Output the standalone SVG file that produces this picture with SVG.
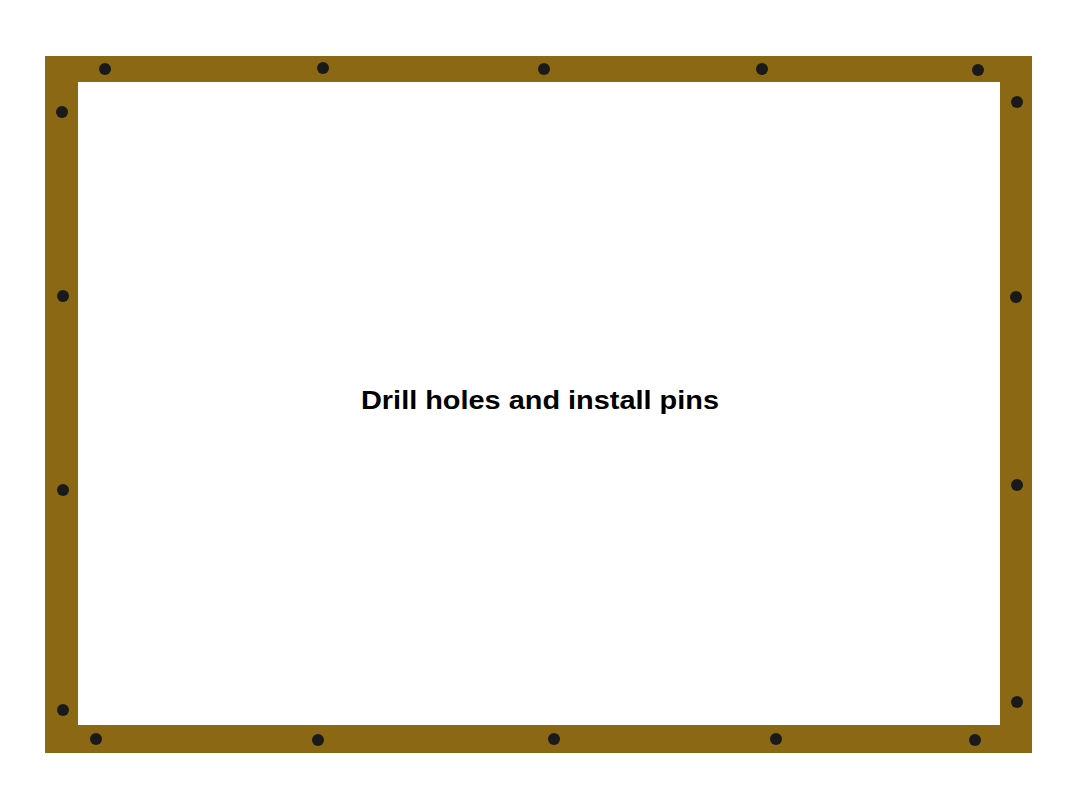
<svg xmlns="http://www.w3.org/2000/svg" width="1082" height="800" viewBox="0 0 1082 800">
  <style>
    .frame { fill: #8b6914; }
    .inner { fill: #ffffff; }
    .pin { fill: #1a1a1a; }
    .label { font-family: "Liberation Sans", Arial, sans-serif; font-weight: bold; font-size: 26px; fill: #000000; }
  </style>
  <rect width="1082" height="800" fill="#ffffff"/>
  <g id="frame">
    <rect class="frame" x="45" y="56" width="987" height="697"/>
    <rect class="inner" x="78" y="82" width="922" height="643"/>
  </g>
  <g id="pins">
    <circle class="pin" cx="105" cy="69" r="6"/>
    <circle class="pin" cx="323" cy="68" r="6"/>
    <circle class="pin" cx="544" cy="69" r="6"/>
    <circle class="pin" cx="762" cy="69" r="6"/>
    <circle class="pin" cx="978" cy="70" r="6"/>
    <circle class="pin" cx="62" cy="112" r="6"/>
    <circle class="pin" cx="63" cy="296" r="6"/>
    <circle class="pin" cx="63" cy="490" r="6"/>
    <circle class="pin" cx="63" cy="710" r="6"/>
    <circle class="pin" cx="1017" cy="102" r="6"/>
    <circle class="pin" cx="1016" cy="297" r="6"/>
    <circle class="pin" cx="1017" cy="485" r="6"/>
    <circle class="pin" cx="1017" cy="702" r="6"/>
    <circle class="pin" cx="96" cy="739" r="6"/>
    <circle class="pin" cx="318" cy="740" r="6"/>
    <circle class="pin" cx="554" cy="739" r="6"/>
    <circle class="pin" cx="776" cy="739" r="6"/>
    <circle class="pin" cx="975" cy="740" r="6"/>
  </g>
  <g id="label">
    <text class="label" x="361" y="409" textLength="358" lengthAdjust="spacingAndGlyphs">Drill holes and install pins</text>
  </g>
</svg>
